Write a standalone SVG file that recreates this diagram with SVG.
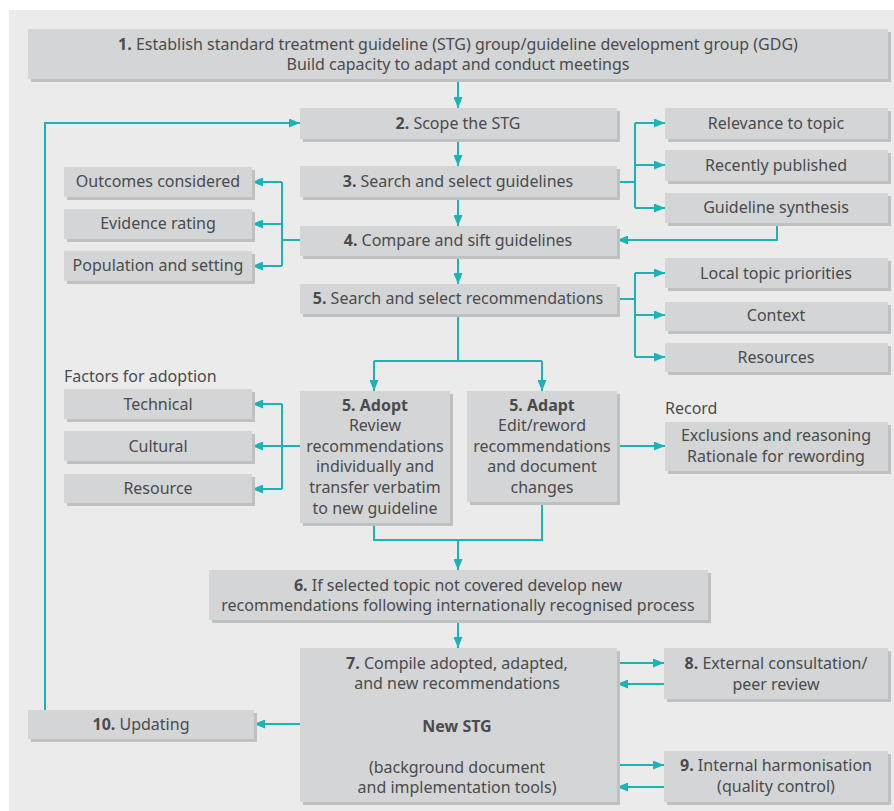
<svg xmlns="http://www.w3.org/2000/svg" width="894" height="811" viewBox="0 0 894 811">
<defs>
<marker id="ah" markerWidth="11" markerHeight="9" refX="11" refY="4.5" orient="auto" markerUnits="userSpaceOnUse">
<path d="M0,0 L11,4.5 L0,9 z" fill="#1bb3b3"/>
</marker>
<style>
.sh{fill:#bfc0c1}
.bx{fill:#d4d5d6}
text{font-family:"Noto Sans","Liberation Sans",sans-serif;font-size:16px;fill:#4a4b4d;text-anchor:middle}
.l{text-anchor:start}
.b{font-weight:bold}
.c{fill:none;stroke:#1bb3b3;stroke-width:2}
.a{marker-end:url(#ah)}
</style>
</defs>
<rect x="0" y="0" width="894" height="811" fill="#ffffff"/>
<rect x="9" y="10" width="885" height="801" fill="#ebebeb"/>

<g id="connectors">
<path class="c a" d="M458,79 V108"/>
<path class="c a" d="M458,139 V166"/>
<path class="c a" d="M458,197 V226"/>
<path class="c a" d="M458,256 V284"/>
<path class="c" d="M617,182 H635 M635,123 V208"/>
<path class="c a" d="M635,123 H665"/>
<path class="c a" d="M635,165 H665"/>
<path class="c a" d="M635,208 H665"/>
<path class="c a" d="M777,223 V240 H617"/>
<path class="c" d="M300,240 H282 M282,182 V266"/>
<path class="c a" d="M282,182 H252"/>
<path class="c a" d="M282,224 H252"/>
<path class="c a" d="M282,266 H252"/>
<path class="c" d="M617,299 H635 M635,273 V357"/>
<path class="c a" d="M635,273 H665"/>
<path class="c a" d="M635,315 H665"/>
<path class="c a" d="M635,357 H665"/>
<path class="c" d="M458,314 V361 M374,361 H542"/>
<path class="c a" d="M374,361 V391"/>
<path class="c a" d="M542,361 V391"/>
<path class="c a" d="M300,446 H252"/>
<path class="c" d="M282,404 V489"/>
<path class="c a" d="M282,404 H252"/>
<path class="c a" d="M282,489 H252"/>
<path class="c a" d="M617,446 H665"/>
<path class="c" d="M374,523 V540 H542 V502"/>
<path class="c a" d="M458,540 V570"/>
<path class="c a" d="M458,620 V648"/>
<path class="c a" d="M617,663 H664"/>
<path class="c a" d="M664,684 H617"/>
<path class="c a" d="M617,765 H664"/>
<path class="c a" d="M664,787 H617"/>
<path class="c a" d="M300,724 H254"/>
<path class="c a" d="M45,710 V123 H300"/>
</g>

<g id="n1"><rect class="sh" x="31" y="32" width="860" height="50"/><rect class="bx" x="28" y="29" width="860" height="50"/>
<text x="458" y="50"><tspan class="b">1.</tspan> Establish standard treatment guideline (STG) group/guideline development group (GDG)</text>
<text x="458" y="70">Build capacity to adapt and conduct meetings</text></g>

<g id="n2"><rect class="sh" x="303" y="111" width="317" height="31"/><rect class="bx" x="300" y="108" width="317" height="31"/>
<text x="458" y="129"><tspan class="b">2.</tspan> Scope the STG</text></g>

<g id="n3"><rect class="sh" x="303" y="169" width="317" height="31"/><rect class="bx" x="300" y="166" width="317" height="31"/>
<text x="458" y="187"><tspan class="b">3.</tspan> Search and select guidelines</text></g>

<g id="n4"><rect class="sh" x="303" y="229" width="317" height="30"/><rect class="bx" x="300" y="226" width="317" height="30"/>
<text x="458" y="246"><tspan class="b">4.</tspan> Compare and sift guidelines</text></g>

<g id="n5"><rect class="sh" x="303" y="287" width="317" height="30"/><rect class="bx" x="300" y="284" width="317" height="30"/>
<text x="458" y="304"><tspan class="b">5.</tspan> Search and select recommendations</text></g>

<g id="relevance"><rect class="sh" x="668" y="111" width="223" height="31"/><rect class="bx" x="665" y="108" width="223" height="31"/>
<text x="776" y="129">Relevance to topic</text></g>
<g id="recent"><rect class="sh" x="668" y="153" width="223" height="31"/><rect class="bx" x="665" y="150" width="223" height="31"/>
<text x="776" y="171">Recently published</text></g>
<g id="synthesis"><rect class="sh" x="668" y="196" width="223" height="30"/><rect class="bx" x="665" y="193" width="223" height="30"/>
<text x="776" y="213">Guideline synthesis</text></g>

<g id="outcomes"><rect class="sh" x="67" y="170" width="188" height="30"/><rect class="bx" x="64" y="167" width="188" height="30"/>
<text x="158" y="187">Outcomes considered</text></g>
<g id="evidence"><rect class="sh" x="67" y="212" width="188" height="30"/><rect class="bx" x="64" y="209" width="188" height="30"/>
<text x="158" y="229">Evidence rating</text></g>
<g id="population"><rect class="sh" x="67" y="254" width="188" height="30"/><rect class="bx" x="64" y="251" width="188" height="30"/>
<text x="158" y="271">Population and setting</text></g>

<g id="local"><rect class="sh" x="668" y="261" width="223" height="30"/><rect class="bx" x="665" y="258" width="223" height="30"/>
<text x="776" y="279">Local topic priorities</text></g>
<g id="context"><rect class="sh" x="668" y="305" width="223" height="29"/><rect class="bx" x="665" y="302" width="223" height="29"/>
<text x="776" y="321">Context</text></g>
<g id="resources"><rect class="sh" x="668" y="346" width="223" height="29"/><rect class="bx" x="665" y="343" width="223" height="29"/>
<text x="776" y="363">Resources</text></g>

<g id="factors-label"><text class="l" x="64" y="382">Factors for adoption</text></g>
<g id="technical"><rect class="sh" x="67" y="392" width="188" height="30"/><rect class="bx" x="64" y="389" width="188" height="30"/>
<text x="158" y="410">Technical</text></g>
<g id="cultural"><rect class="sh" x="67" y="434" width="188" height="30"/><rect class="bx" x="64" y="431" width="188" height="30"/>
<text x="158" y="452">Cultural</text></g>
<g id="resource"><rect class="sh" x="67" y="477" width="188" height="29"/><rect class="bx" x="64" y="474" width="188" height="29"/>
<text x="158" y="494">Resource</text></g>

<g id="adopt"><rect class="sh" x="303" y="394" width="150" height="132"/><rect class="bx" x="300" y="391" width="150" height="132"/>
<text x="375" y="411" class="b">5. Adopt</text>
<text x="375" y="431">Review</text>
<text x="375" y="452">recommendations</text>
<text x="375" y="472">individually and</text>
<text x="375" y="493">transfer verbatim</text>
<text x="375" y="514">to new guideline</text></g>

<g id="adapt"><rect class="sh" x="470" y="394" width="150" height="111"/><rect class="bx" x="467" y="391" width="150" height="111"/>
<text x="542" y="411" class="b">5. Adapt</text>
<text x="542" y="431">Edit/reword</text>
<text x="542" y="452">recommendations</text>
<text x="542" y="472">and document</text>
<text x="542" y="493">changes</text></g>

<g id="record-label"><text class="l" x="665" y="414">Record</text></g>
<g id="record"><rect class="sh" x="668" y="425" width="223" height="49"/><rect class="bx" x="665" y="422" width="223" height="49"/>
<text x="776" y="441">Exclusions and reasoning</text>
<text x="776" y="462">Rationale for rewording</text></g>

<g id="n6"><rect class="sh" x="212" y="573" width="499" height="50"/><rect class="bx" x="209" y="570" width="499" height="50"/>
<text x="458" y="591"><tspan class="b">6.</tspan> If selected topic not covered develop new</text>
<text x="458" y="611">recommendations following internationally recognised process</text></g>

<g id="n7"><rect class="sh" x="303" y="651" width="317" height="154"/><rect class="bx" x="300" y="648" width="317" height="154"/>
<text x="457" y="669"><tspan class="b">7.</tspan> Compile adopted, adapted,</text>
<text x="457" y="689">and new recommendations</text>
<text x="457" y="732" class="b">New STG</text>
<text x="457" y="773">(background document</text>
<text x="457" y="793">and implementation tools)</text></g>

<g id="n8"><rect class="sh" x="667" y="651" width="224" height="51"/><rect class="bx" x="664" y="648" width="224" height="51"/>
<text x="776" y="669"><tspan class="b">8.</tspan> External consultation/</text>
<text x="776" y="690">peer review</text></g>

<g id="n9"><rect class="sh" x="667" y="754" width="224" height="51"/><rect class="bx" x="664" y="751" width="224" height="51"/>
<text x="776" y="771"><tspan class="b">9.</tspan> Internal harmonisation</text>
<text x="776" y="792">(quality control)</text></g>

<g id="n10"><rect class="sh" x="31" y="713" width="226" height="29"/><rect class="bx" x="28" y="710" width="226" height="29"/>
<text x="141" y="730"><tspan class="b">10.</tspan> Updating</text></g>
</svg>
